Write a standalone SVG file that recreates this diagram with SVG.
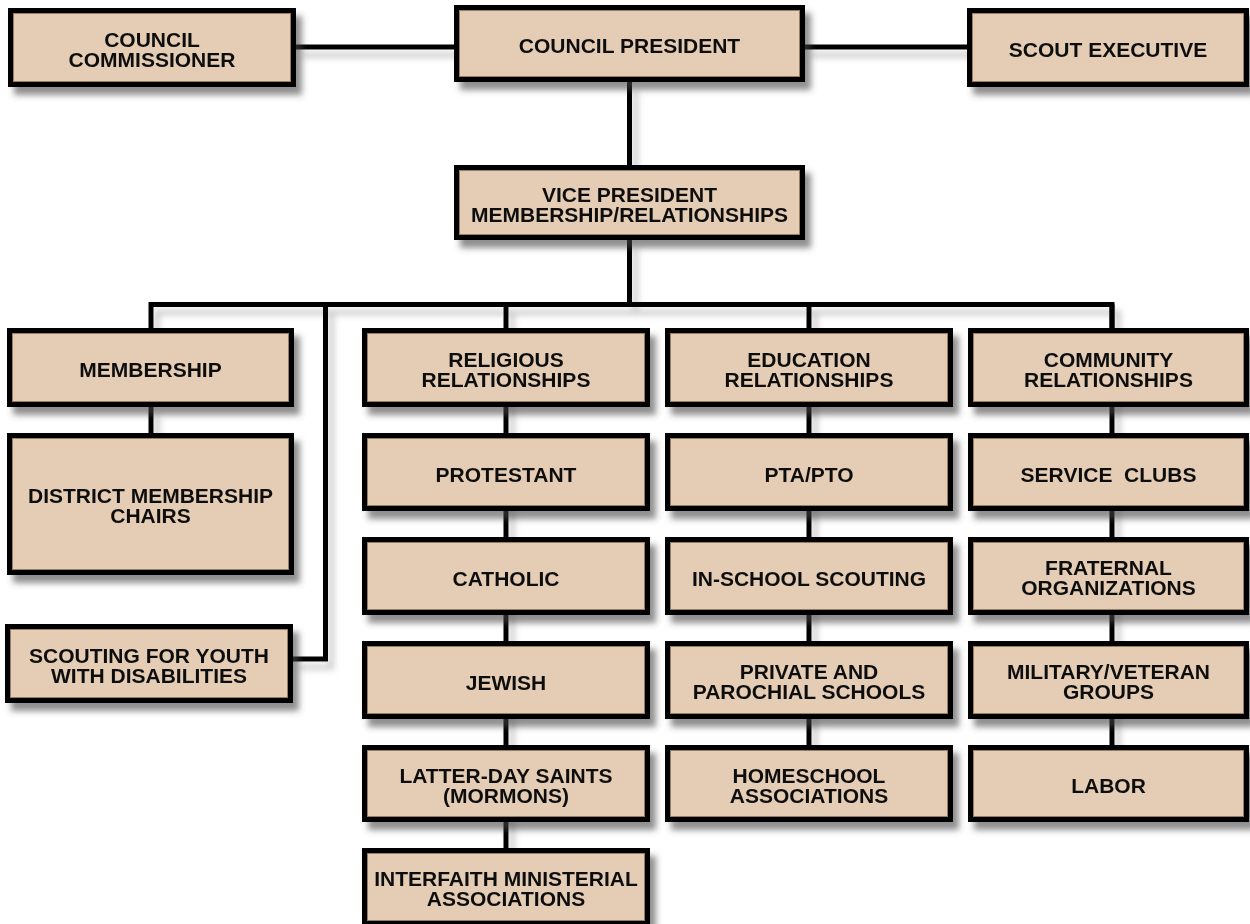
<svg xmlns="http://www.w3.org/2000/svg" width="1250" height="924" viewBox="0 0 1250 924">
<style>
.box{fill:#E4CDB4;stroke:#000;stroke-width:5}
.inner{fill:none;stroke:#9a7c5e;stroke-width:1}
.t{font-family:"Liberation Sans",Arial,Helvetica,sans-serif;font-weight:bold;font-size:21px;fill:#111;text-anchor:middle;white-space:pre}
.c{fill:none;stroke:#000;stroke-width:5;stroke-linejoin:miter;stroke-linecap:butt}
</style>
<defs>
<filter id="sh" x="-10%" y="-20%" width="130%" height="150%">
<feDropShadow dx="6" dy="8" stdDeviation="3" flood-color="#444" flood-opacity="0.6"/>
</filter>
<filter id="shl" x="-10%" y="-10%" width="130%" height="130%">
<feDropShadow dx="6" dy="8" stdDeviation="3" flood-color="#666" flood-opacity="0.35"/>
</filter>
</defs>
<rect width="1250" height="924" fill="#fff"/>
<g id="connectors" filter="url(#shl)">
<path class="c" d="M296 47 H454"/>
<path class="c" d="M805 47 H967"/>
<path class="c" d="M629.5 82 V165"/>
<path class="c" d="M629.5 240 V304.5"/>
<path class="c" d="M151 328 V304.5 H1112 V328"/>
<path class="c" d="M325.5 304.5 V659 H293"/>
<path class="c" d="M151 407 V433"/>
<path class="c" d="M506 304.5 V848"/>
<path class="c" d="M809 304.5 V745"/>
<path class="c" d="M1112 304.5 V745"/>
</g>
<g id="council-commissioner" filter="url(#sh)"><rect class="box" x="10.5" y="10.5" width="283" height="74"/><rect class="inner" x="13.5" y="13.5" width="277" height="68"/><text class="t" x="152" y="46.5">COUNCIL</text><text class="t" x="152" y="66.5">COMMISSIONER</text></g>
<g id="council-president" filter="url(#sh)"><rect class="box" x="456.5" y="7.5" width="346" height="72"/><rect class="inner" x="459.5" y="10.5" width="340" height="66"/><text class="t" x="629.5" y="53">COUNCIL PRESIDENT</text></g>
<g id="scout-executive" filter="url(#sh)"><rect class="box" x="969.5" y="10.5" width="277" height="74"/><rect class="inner" x="972.5" y="13.5" width="271" height="68"/><text class="t" x="1108" y="57">SCOUT EXECUTIVE</text></g>
<g id="vice-president" filter="url(#sh)"><rect class="box" x="456.5" y="167.5" width="346" height="70"/><rect class="inner" x="459.5" y="170.5" width="340" height="64"/><text class="t" x="629.5" y="201.5">VICE PRESIDENT</text><text class="t" x="629.5" y="221.5">MEMBERSHIP/RELATIONSHIPS</text></g>
<g id="membership" filter="url(#sh)"><rect class="box" x="9.5" y="330.5" width="282" height="74"/><rect class="inner" x="12.5" y="333.5" width="276" height="68"/><text class="t" x="150.5" y="377">MEMBERSHIP</text></g>
<g id="district-membership-chairs" filter="url(#sh)"><rect class="box" x="9.5" y="435.5" width="282" height="137"/><rect class="inner" x="12.5" y="438.5" width="276" height="131"/><text class="t" x="150.5" y="503">DISTRICT MEMBERSHIP</text><text class="t" x="150.5" y="523">CHAIRS</text></g>
<g id="scouting-youth-disabilities" filter="url(#sh)"><rect class="box" x="7.5" y="626.5" width="283" height="74"/><rect class="inner" x="10.5" y="629.5" width="277" height="68"/><text class="t" x="149" y="662.5">SCOUTING FOR YOUTH</text><text class="t" x="149" y="682.5">WITH DISABILITIES</text></g>
<g id="religious-relationships" filter="url(#sh)"><rect class="box" x="364.5" y="330.5" width="283" height="74"/><rect class="inner" x="367.5" y="333.5" width="277" height="68"/><text class="t" x="506" y="366.5">RELIGIOUS</text><text class="t" x="506" y="386.5">RELATIONSHIPS</text></g>
<g id="protestant" filter="url(#sh)"><rect class="box" x="364.5" y="435.5" width="283" height="73"/><rect class="inner" x="367.5" y="438.5" width="277" height="67"/><text class="t" x="506" y="481.5">PROTESTANT</text></g>
<g id="catholic" filter="url(#sh)"><rect class="box" x="364.5" y="539.5" width="283" height="73"/><rect class="inner" x="367.5" y="542.5" width="277" height="67"/><text class="t" x="506" y="585.5">CATHOLIC</text></g>
<g id="jewish" filter="url(#sh)"><rect class="box" x="364.5" y="643.5" width="283" height="73"/><rect class="inner" x="367.5" y="646.5" width="277" height="67"/><text class="t" x="506" y="689.5">JEWISH</text></g>
<g id="latter-day-saints" filter="url(#sh)"><rect class="box" x="364.5" y="747.5" width="283" height="72"/><rect class="inner" x="367.5" y="750.5" width="277" height="66"/><text class="t" x="506" y="782.5">LATTER-DAY SAINTS</text><text class="t" x="506" y="802.5">(MORMONS)</text></g>
<g id="interfaith" filter="url(#sh)"><rect class="box" x="364.5" y="850.5" width="283" height="73"/><rect class="inner" x="367.5" y="853.5" width="277" height="67"/><text class="t" x="506" y="886">INTERFAITH MINISTERIAL</text><text class="t" x="506" y="906">ASSOCIATIONS</text></g>
<g id="education-relationships" filter="url(#sh)"><rect class="box" x="667.5" y="330.5" width="283" height="74"/><rect class="inner" x="670.5" y="333.5" width="277" height="68"/><text class="t" x="809" y="366.5">EDUCATION</text><text class="t" x="809" y="386.5">RELATIONSHIPS</text></g>
<g id="pta-pto" filter="url(#sh)"><rect class="box" x="667.5" y="435.5" width="283" height="73"/><rect class="inner" x="670.5" y="438.5" width="277" height="67"/><text class="t" x="809" y="481.5">PTA/PTO</text></g>
<g id="in-school-scouting" filter="url(#sh)"><rect class="box" x="667.5" y="539.5" width="283" height="73"/><rect class="inner" x="670.5" y="542.5" width="277" height="67"/><text class="t" x="809" y="585.5">IN-SCHOOL SCOUTING</text></g>
<g id="private-parochial" filter="url(#sh)"><rect class="box" x="667.5" y="643.5" width="283" height="73"/><rect class="inner" x="670.5" y="646.5" width="277" height="67"/><text class="t" x="809" y="679">PRIVATE AND</text><text class="t" x="809" y="699">PAROCHIAL SCHOOLS</text></g>
<g id="homeschool" filter="url(#sh)"><rect class="box" x="667.5" y="747.5" width="283" height="72"/><rect class="inner" x="670.5" y="750.5" width="277" height="66"/><text class="t" x="809" y="782.5">HOMESCHOOL</text><text class="t" x="809" y="802.5">ASSOCIATIONS</text></g>
<g id="community-relationships" filter="url(#sh)"><rect class="box" x="970.5" y="330.5" width="276" height="74"/><rect class="inner" x="973.5" y="333.5" width="270" height="68"/><text class="t" x="1108.5" y="366.5">COMMUNITY</text><text class="t" x="1108.5" y="386.5">RELATIONSHIPS</text></g>
<g id="service-clubs" filter="url(#sh)"><rect class="box" x="970.5" y="435.5" width="276" height="73"/><rect class="inner" x="973.5" y="438.5" width="270" height="67"/><text class="t" x="1108.5" y="481.5">SERVICE  CLUBS</text></g>
<g id="fraternal" filter="url(#sh)"><rect class="box" x="970.5" y="539.5" width="276" height="73"/><rect class="inner" x="973.5" y="542.5" width="270" height="67"/><text class="t" x="1108.5" y="575">FRATERNAL</text><text class="t" x="1108.5" y="595">ORGANIZATIONS</text></g>
<g id="military-veteran" filter="url(#sh)"><rect class="box" x="970.5" y="643.5" width="276" height="73"/><rect class="inner" x="973.5" y="646.5" width="270" height="67"/><text class="t" x="1108.5" y="679">MILITARY/VETERAN</text><text class="t" x="1108.5" y="699">GROUPS</text></g>
<g id="labor" filter="url(#sh)"><rect class="box" x="970.5" y="747.5" width="276" height="72"/><rect class="inner" x="973.5" y="750.5" width="270" height="66"/><text class="t" x="1108.5" y="793">LABOR</text></g>
</svg>
